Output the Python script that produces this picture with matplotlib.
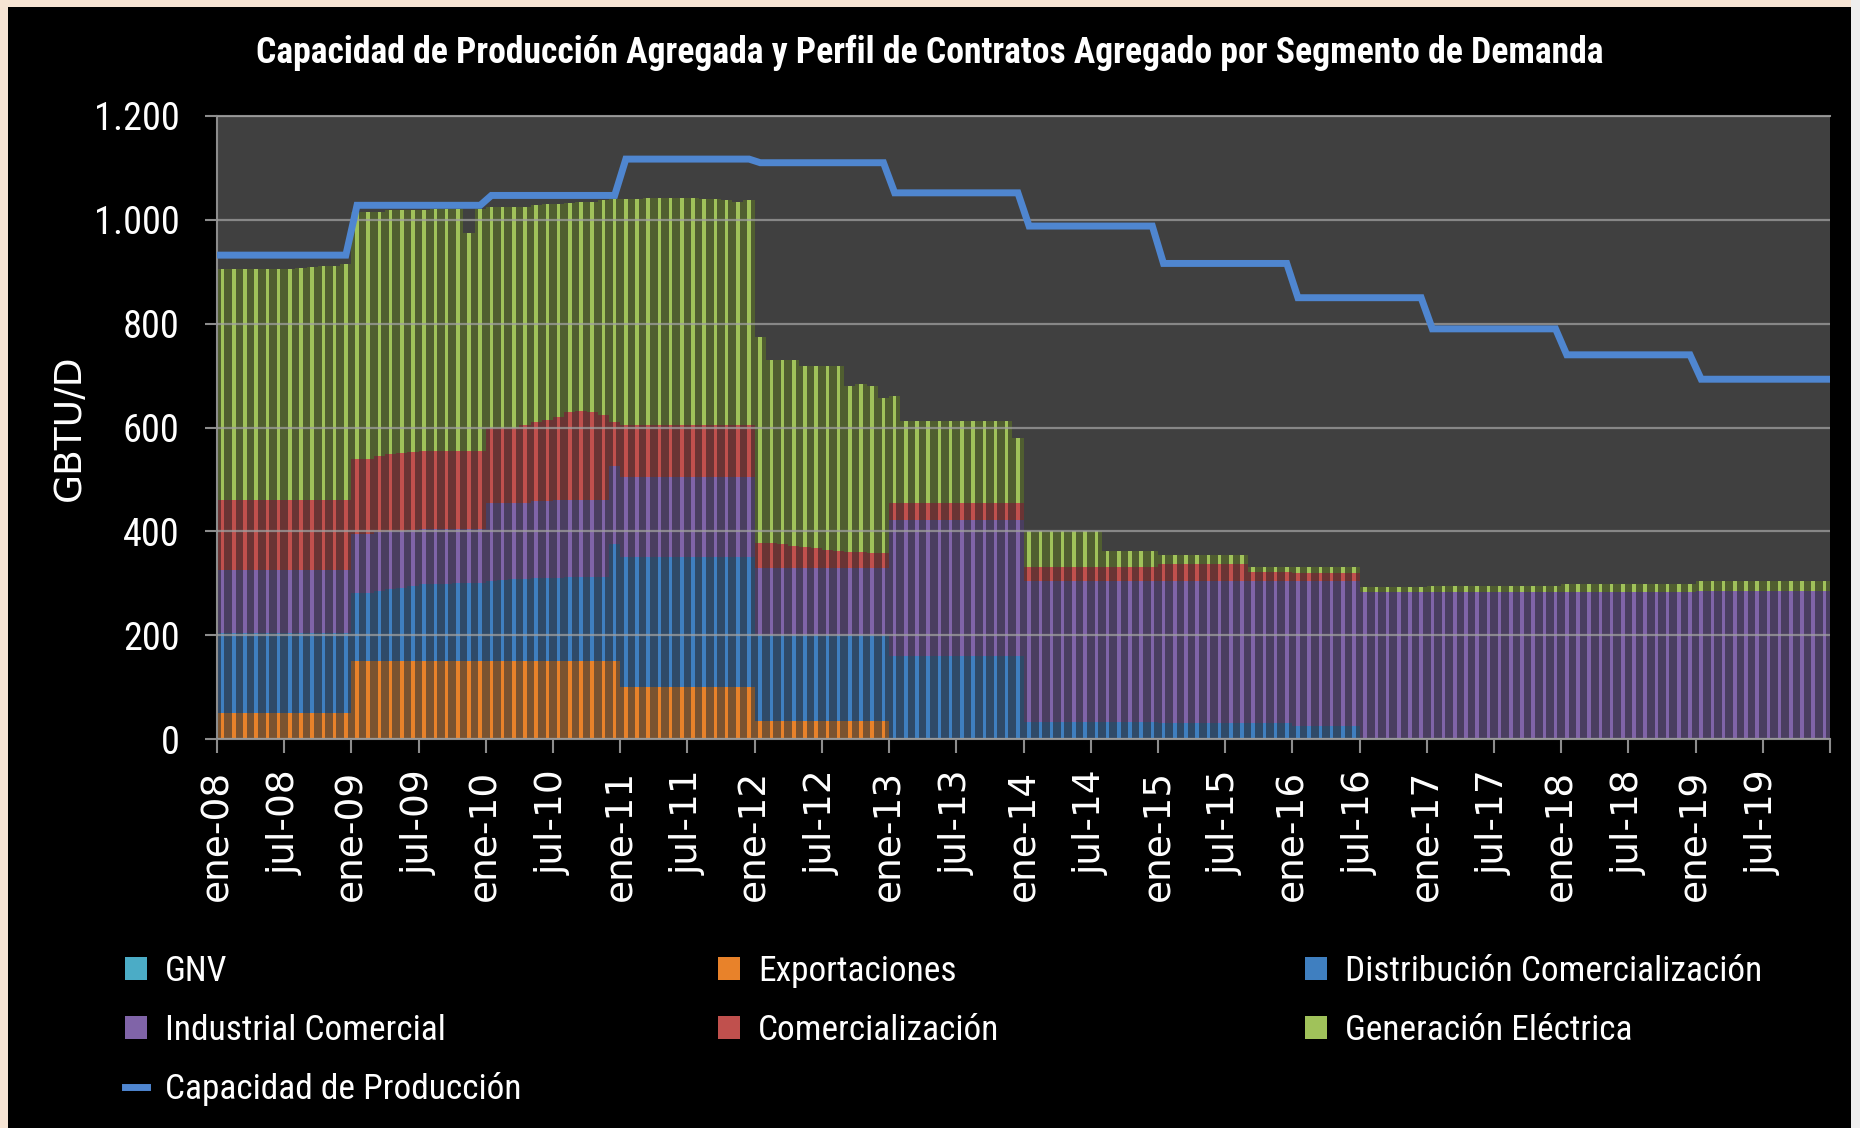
import numpy as np
import matplotlib
matplotlib.use('Agg')
import matplotlib.pyplot as plt
from matplotlib import font_manager as fm
from matplotlib.patches import Rectangle, Patch
from matplotlib.lines import Line2D
import matplotlib.transforms as mtrans

# ---------------- data ----------------
tick_labels = ['ene-08', 'jul-08', 'ene-09', 'jul-09', 'ene-10', 'jul-10',
               'ene-11', 'jul-11', 'ene-12', 'jul-12', 'ene-13', 'jul-13',
               'ene-14', 'jul-14', 'ene-15', 'jul-15', 'ene-16', 'jul-16',
               'ene-17', 'jul-17', 'ene-18', 'jul-18', 'ene-19', 'jul-19']
ytick_values = [0, 200, 400, 600, 800, 1000, 1200]
ytick_labels = ['0', '200', '400', '600', '800', '1.000', '1.200']

# monthly values (GBTU/D), one row of 12 months per year 2008..2019
gnv = [0] * 144

exportaciones = ([50] * 12 + [150] * 12 + [150] * 12 + [100] * 12 + [35] * 12
                 + [0] * 12 + [0] * 12 + [0] * 12 + [0] * 12 + [0] * 12 + [0] * 12 + [0] * 12)

distribucion = ([155] * 12
                + [132, 132, 135, 138, 140, 145, 148, 148, 148, 150, 150, 150]
                + [155, 156, 158, 158, 160, 160, 160, 162, 162, 162, 162, 225]
                + [250] * 12
                + [165] * 12
                + [160] * 12
                + [33] * 12
                + [30] * 12
                + [25, 25, 25, 25, 25, 25, 0, 0, 0, 0, 0, 0]
                + [0] * 12 + [0] * 12 + [0] * 12)

industrial = ([120] * 12
              + [113, 113, 113, 112, 110, 107, 107, 107, 107, 105, 105, 105]
              + [150, 149, 147, 147, 148, 148, 150, 148, 148, 148, 148, 150]
              + [155] * 12
              + [130] * 12
              + [262] * 12
              + [272] * 12
              + [275] * 12
              + [280, 280, 280, 280, 280, 280, 283, 283, 283, 283, 283, 283]
              + [283] * 12
              + [284] * 12
              + [286] * 12)

comercializacion = ([135] * 12
                    + [145, 145, 147, 148, 150, 150, 150, 150, 150, 150, 150, 150]
                    + [145, 145, 145, 150, 152, 157, 160, 170, 172, 170, 165, 85]
                    + [100] * 12
                    + [48, 48, 45, 42, 40, 38, 35, 32, 30, 30, 28, 28]
                    + [33] * 12
                    + [27] * 12
                    + [33, 33, 33, 33, 33, 33, 33, 33, 17, 17, 17, 17]
                    + [15, 15, 15, 15, 15, 15, 0, 0, 0, 0, 0, 0]
                    + [0] * 12 + [0] * 12 + [0] * 12)

generacion = ([445, 445, 445, 445, 445, 445, 445, 448, 450, 452, 452, 455]
              + [475, 475, 470, 470, 468, 466, 463, 465, 465, 465, 420, 465]
              + [425, 425, 425, 420, 418, 415, 410, 402, 403, 405, 413, 430]
              + [435, 435, 437, 437, 437, 437, 437, 435, 435, 433, 430, 433]
              + [396, 352, 355, 358, 348, 350, 353, 356, 320, 323, 322, 298]
              + [206, 158, 158, 158, 158, 158, 158, 158, 158, 158, 158, 125]
              + [68, 68, 68, 68, 68, 68, 68, 30, 30, 30, 30, 30]
              + [16, 16, 16, 16, 16, 16, 16, 16, 10, 10, 10, 10]
              + [12, 12, 12, 12, 12, 12, 10, 10, 10, 10, 10, 10]
              + [12] * 12
              + [14] * 12
              + [18] * 12)

capacidad = ([932] * 12 + [1028] * 12 + [1047] * 12 + [1117] * 12 + [1110] * 12
             + [1052] * 12 + [988] * 12 + [916] * 12 + [850] * 12 + [790] * 12
             + [740] * 12 + [693] * 12)

series_names = ['GNV', 'Exportaciones', 'Distribución Comercialización',
                'Industrial Comercial', 'Comercialización', 'Generación Eléctrica']
series_values = [gnv, exportaciones, distribucion, industrial, comercializacion, generacion]
bright_colors = ['#4bacc6', '#e8822a', '#3f7fc0', '#8064a8', '#c0504d', '#a0c25a']
dark_colors = ['#2f5c68', '#7a5330', '#2f4a68', '#4a3e60', '#6a3434', '#505e30']
line_color = '#4f86d0'
title_text = 'Capacidad de Producción Agregada y Perfil de Contratos Agregado por Segmento de Demanda'

# ---------------- fonts: prefer a narrow family ----------------
ttf = fm.fontManager.ttflist
narrow = None
for cand in ['Liberation Sans Narrow', 'Roboto Condensed', 'Open Sans Condensed',
             'Ubuntu Condensed', 'Arial Narrow']:
    if any(f.name == cand for f in ttf):
        narrow = {'family': cand}
        break
if narrow is None:
    if any(f.name == 'DejaVu Sans' and 'condensed' in str(f.stretch) for f in ttf):
        narrow = {'family': 'DejaVu Sans', 'stretch': 'condensed'}
    else:
        narrow = {'family': 'Liberation Sans'}

W, H = 1860, 1128
fig = plt.figure(figsize=(W / 100, H / 100), dpi=100)
renderer = fig.canvas.get_renderer()


def fit_size(text, target_px, cap, **kw):
    t = fig.text(0, 0, text, fontsize=20, **kw)
    w = t.get_window_extent(renderer).width
    t.remove()
    return min(cap, 20 * target_px / w)


title_size = fit_size(title_text, 1345, 30, fontweight='bold', **narrow)
ytick_size = fit_size('1.200', 86, 32, **narrow)
legend_size = fit_size('Distribución Comercialización', 416, 28, **narrow)

fig.patch.set_facecolor('#f6e4d4')
fig.add_artist(Rectangle((1851 / W, 0), 9 / W, 1, transform=fig.transFigure,
                         facecolor='#eeeeee', edgecolor='none', zorder=-11))
fig.add_artist(Rectangle((8 / W, 0), (1851 - 8) / W, (H - 7) / H, transform=fig.transFigure,
                         facecolor='black', edgecolor='none', zorder=-10))

ax = fig.add_axes([217 / W, 1 - 739 / H, (1830 - 217) / W, (739 - 116) / H])
ax.set_facecolor('#404040')

n = len(capacidad)
x = np.arange(n) + 0.5
bottom = np.zeros(n)
for vals, dk, br in zip(series_values, dark_colors, bright_colors):
    v = np.array(vals, dtype=float)
    ax.bar(x, v, width=1.0, bottom=bottom, color=dk, linewidth=0, zorder=2)
    ax.bar(x, v, width=0.32, bottom=bottom, color=br, linewidth=0, zorder=2.2)
    bottom += v

cap_x = np.concatenate([[0], x, [n]])
cap_y = np.concatenate([[capacidad[0]], capacidad, [capacidad[-1]]])
ax.plot(cap_x, cap_y, color=line_color, lw=5, zorder=4, solid_joinstyle='miter')

ax.set_xlim(0, n)
ax.set_ylim(0, 1200)
ax.set_axisbelow(False)
ax.yaxis.grid(True, color='#a0a0a0', lw=1.6, alpha=0.75)
ax.xaxis.grid(False)

ax.set_yticks(ytick_values)
ax.set_yticklabels(ytick_labels, fontsize=ytick_size, color='white', **narrow)
ax.set_xticks(np.arange(0, n + 1, 6))
ax.set_xticklabels(tick_labels + [''], rotation=90, fontsize=27, color='white',
                   family='DejaVu Sans', va='top', ha='center')
offset = mtrans.ScaledTranslation(7 / 100, 0, fig.dpi_scale_trans)
for lbl in ax.get_xticklabels():
    lbl.set_transform(lbl.get_transform() + offset)

ax.tick_params(axis='y', length=9, width=1.5, color='#8c8c8c', pad=18)
ax.tick_params(axis='x', length=10, width=1.5, color='#8c8c8c', pad=12)
ax.spines['right'].set_visible(False)
for s in ['left', 'bottom', 'top']:
    ax.spines[s].set_color('#8c8c8c')
    ax.spines[s].set_linewidth(1.5)

ax.set_ylabel('GBTU/D', fontsize=27, color='white', family='DejaVu Sans')
ax.yaxis.set_label_coords(-0.080, 0.5)

fig.text(0.5, 1 - 53 / H, title_text, ha='center', va='center', fontsize=title_size,
         fontweight='bold', color='white', **narrow)

# legend (three columns placed explicitly)
handles = [Patch(facecolor=c, edgecolor='none') for c in bright_colors]
cap_handle = Line2D([0], [0], color=line_color, lw=5)
cols = [([handles[0], handles[3], cap_handle], [series_names[0], series_names[3], 'Capacidad de Producción'], 125),
        ([handles[1], handles[4]], [series_names[1], series_names[4]], 718),
        ([handles[2], handles[5]], [series_names[2], series_names[5]], 1305)]
row_gap_px = 67
for hs, ls, xpx in cols:
    fs_px = legend_size * 100 / 72
    leg = fig.legend(hs, ls, loc='upper left', bbox_to_anchor=(xpx / W, 1 - 955 / H),
                     frameon=False, borderpad=0, borderaxespad=0,
                     handlelength=22 / fs_px, handleheight=22 / fs_px,
                     handletextpad=18 / fs_px,
                     labelspacing=(row_gap_px - 1.17 * fs_px) / fs_px,
                     prop=dict(size=legend_size, **narrow))
    for t in leg.get_texts():
        t.set_color('white')

fig.savefig('out.png', dpi=100, facecolor=fig.get_facecolor())
